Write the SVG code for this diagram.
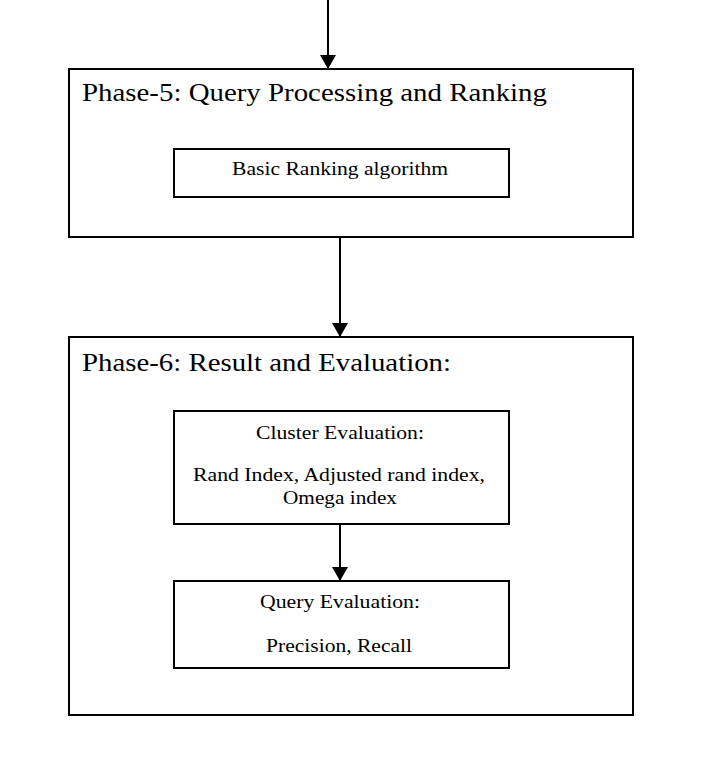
<svg xmlns="http://www.w3.org/2000/svg" width="702" height="780" viewBox="0 0 702 780">
<style>
.box{fill:#fff;stroke:#000;stroke-width:2}
.t{font-family:"Liberation Serif","Times New Roman",serif;fill:#000}
.title{font-size:26px}
.lbl{font-size:19px;text-anchor:middle}
.c{stroke:#000;stroke-width:2;fill:none}
</style>
<defs>
<marker id="ah" markerWidth="14" markerHeight="16" refX="14" refY="8" orient="auto" markerUnits="userSpaceOnUse">
<path d="M0,0 L14,8 L0,16 z" fill="#000"/>
</marker>
</defs>
<rect width="702" height="780" fill="#fff"/>
<g id="phase5">
<rect class="box" x="69" y="69" width="564" height="168"/>
<text class="t title" x="82" y="101" textLength="465" lengthAdjust="spacingAndGlyphs">Phase-5: Query Processing and Ranking</text>
</g>
<g id="ranking">
<rect class="box" x="174" y="149" width="335" height="48"/>
<text class="t lbl" x="340" y="175" textLength="216" lengthAdjust="spacingAndGlyphs">Basic Ranking algorithm</text>
</g>
<g id="phase6">
<rect class="box" x="69" y="337" width="564" height="378"/>
<text class="t title" x="82" y="371" textLength="369" lengthAdjust="spacingAndGlyphs">Phase-6: Result and Evaluation:</text>
</g>
<g id="cluster">
<rect class="box" x="174" y="411" width="335" height="113"/>
<text class="t lbl" x="340" y="439" textLength="168" lengthAdjust="spacingAndGlyphs">Cluster Evaluation:</text>
<text class="t lbl" x="339" y="481" textLength="292" lengthAdjust="spacingAndGlyphs">Rand Index, Adjusted rand index,</text>
<text class="t lbl" x="340" y="504" textLength="114" lengthAdjust="spacingAndGlyphs">Omega index</text>
</g>
<g id="query">
<rect class="box" x="174" y="581" width="335" height="87"/>
<text class="t lbl" x="340" y="608" textLength="160" lengthAdjust="spacingAndGlyphs">Query Evaluation:</text>
<text class="t lbl" x="339" y="652" textLength="146" lengthAdjust="spacingAndGlyphs">Precision, Recall</text>
</g>
<g id="connectors">
<line class="c" x1="328" y1="0" x2="328" y2="69" marker-end="url(#ah)"/>
<line class="c" x1="340" y1="237" x2="340" y2="337" marker-end="url(#ah)"/>
<line class="c" x1="340" y1="524" x2="340" y2="581" marker-end="url(#ah)"/>
</g>
</svg>
